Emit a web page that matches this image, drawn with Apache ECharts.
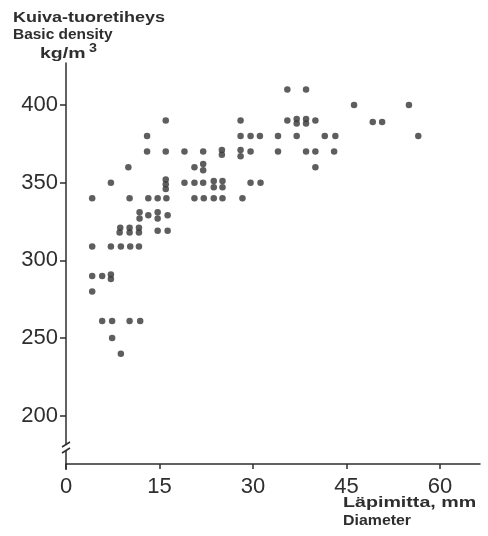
<!DOCTYPE html>
<html><head><meta charset="utf-8">
<script src="https://cdn.jsdelivr.net/npm/echarts@6/dist/echarts.min.js"></script>
<style>html,body{margin:0;padding:0;background:#fff}#c{width:488px;height:536px}</style>
</head><body><div id="c"></div>
<script>
// Diameter (mm)
const diameter = [
  16, 13, 13, 16, 19, 22, 10, 20.6, 22, 22,
  7.2, 16, 16, 16, 19, 20.6, 22, 4.2, 10.2, 13.2, 14.7, 16.1, 20.6, 22.1,
  11.8, 11.8, 13.2, 14.7, 14.7, 16.3, 8.7, 10.2, 11.7,
  8.6, 10.2, 11.7, 14.7, 16.3,
  4.2, 7.2, 8.8, 10.3, 11.7, 4.2, 5.8, 7.2, 7.2, 4.2,
  5.8, 7.4, 10.2, 11.9, 7.4, 8.8,
  35.5, 38.5, 28, 35.5, 37, 37, 38.5, 38.5, 40,
  28, 29.6, 31.1, 34, 37, 41.5, 43.2,
  25, 25, 28, 28, 29.6, 34, 38.5, 40, 43,
  40, 23.7, 23.7, 25.1, 25.1, 29.6, 31.2, 23.7, 25.1, 28.3,
  46.2, 55, 49.2, 50.7, 56.5
];
// Basic density (kg/m3)
const density = [
  390, 380, 370, 370, 370, 370, 360, 360, 362, 358,
  350, 352, 349, 346, 350, 350, 350, 340, 340, 340, 340, 340, 340, 340,
  331, 327, 329, 331, 327, 329, 321, 321, 321,
  318, 318, 318, 319, 319,
  309, 309, 309, 309, 309, 290, 290, 291, 288, 280,
  261, 261, 261, 261, 250, 240,
  410, 410, 390, 390, 391, 388, 391, 388, 390,
  380, 380, 380, 380, 380, 380, 380,
  371, 368, 371, 367, 370, 370, 370, 370, 370,
  360, 351, 347, 351, 347, 350, 350, 340, 340, 340,
  400, 400, 389, 389, 380
];
const xTicks = [0, 15, 30, 45, 60];
const yTicks = [200, 250, 300, 350, 400];
const yTitle = ['Kuiva-tuoretiheys', 'Basic density', 'kg/m'];
const yTitleSup = '3';
const xTitle = ['Läpimitta, mm', 'Diameter'];

const points = diameter.map((d, i) => [d, density[i]]);
const ink = '#2e2e2e';
const font = '"Liberation Sans", Arial, sans-serif';

const chart = echarts.init(document.getElementById('c'), null, {renderer: 'canvas'});
chart.setOption({
  animation: false,
  backgroundColor: '#fff',
  grid: {left: 66, right: 8, top: 63, bottom: 72, containLabel: false},
  xAxis: {
    type: 'value', min: 0, max: 66.4,
    splitLine: {show: false},
    axisLine: {lineStyle: {color: ink, width: 1.5}},
    axisTick: {show: true, length: 5, lineStyle: {color: ink, width: 1.5}, customValues: xTicks},
    axisLabel: {customValues: xTicks, color: ink, fontSize: 22, fontFamily: font, margin: 12}
  },
  yAxis: {
    type: 'value', min: 169, max: 427,
    splitLine: {show: false},
    axisLine: {show: true, lineStyle: {color: ink, width: 1.5}},
    axisTick: {show: true, length: 6, lineStyle: {color: ink, width: 1.5}, customValues: yTicks},
    axisLabel: {customValues: yTicks, color: ink, fontSize: 22, fontFamily: font, margin: 8}
  },
  series: [{
    type: 'scatter', data: points, symbol: 'circle', symbolSize: 6.5,
    itemStyle: {color: '#363636'}
  }]
});

const p1 = chart.convertToPixel({gridIndex: 0}, [0, 169]);
const ax = p1[0], by = p1[1];
const bold = 'bold 15px ' + font;
function txt(id, text, x, y, sx, f) {
  return {id: id, type: 'text', x: x, y: y, scaleX: sx,
    style: {text: text, font: f || bold, fill: ink, align: 'left', verticalAlign: 'top'}};
}
chart.setOption({
  graphic: [
    txt('t1', yTitle[0], 13, 10, 1.2),
    txt('t2', yTitle[1], 13, 27, 1.03),
    txt('t3', yTitle[2], 40, 46, 1.3),
    txt('t3s', yTitleSup, 89, 42, 1.1, 'bold 13px ' + font),
    txt('t4', xTitle[0], 343, 495, 1.31),
    txt('t5', xTitle[1], 343, 513, 1.06),
    {id: 'gap', type: 'rect', shape: {x: ax - 3, y: by - 19, width: 6, height: 6}, style: {fill: '#fff'}, z: 100},
    {id: 'b1', type: 'line', shape: {x1: ax - 4, y1: by - 17, x2: ax + 4, y2: by - 22}, style: {stroke: ink, lineWidth: 1.5}, z: 101},
    {id: 'b2', type: 'line', shape: {x1: ax - 4, y1: by - 11, x2: ax + 4, y2: by - 16}, style: {stroke: ink, lineWidth: 1.5}, z: 101},
    {id: 'ext', type: 'line', shape: {x1: ax, y1: by, x2: ax, y2: by + 6}, style: {stroke: ink, lineWidth: 1.5}, z: 101}
  ]
});
</script></body></html>
